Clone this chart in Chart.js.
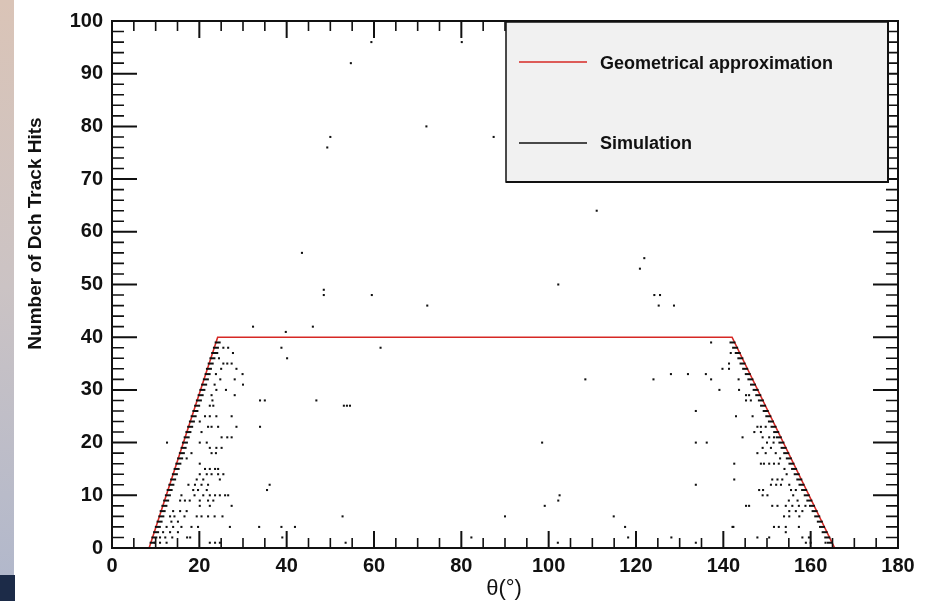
<!DOCTYPE html>
<html><head><meta charset="utf-8">
<script src="https://cdn.jsdelivr.net/npm/chart.js@4"></script>
<style>html,body{margin:0;padding:0;background:#fff;}canvas{display:block;}</style>
</head><body>
<canvas id="c" width="930" height="601"></canvas>
<script>
// ---- data ----
const xTickValues = [0,20,40,60,80,100,120,140,160,180];
const yTickValues = [0,10,20,30,40,50,60,70,80,90,100];
const xTitle = 'θ(°)';
const yTitle = 'Number of Dch Track Hits';
const geoLabel = 'Geometrical approximation';
const simLabel = 'Simulation';

// Geometrical approximation (theta, hits)
const geoTheta = [0, 8.5, 24.2, 142.0, 165.5, 180];
const geoHits  = [0, 0, 40, 40, 0, 0];

// Simulation: dense hits along acceptance edges [theta, hits]
const simEdgeLeft = [[9.3,1],[9.7,2],[10.1,3],[10.5,4],[10.9,5],[11.3,6],[11.6,7],[12.0,8],[12.4,9],[12.8,10],
 [13.2,11],[13.6,12],[14.0,13],[14.4,14],[14.8,15],[15.2,16],[15.6,17],[16.0,18],[16.4,19],[16.7,20],
 [17.1,21],[17.5,22],[17.9,23],[18.3,24],[18.7,25],[19.1,26],[19.5,27],[19.9,28],[20.3,29],[20.7,30],
 [21.1,31],[21.5,32],[21.9,33],[22.2,34],[22.6,35],[23.0,36],[23.4,37],[23.8,38],[24.2,39]];
const simEdgeRight = [[164.4,1],[163.8,2],[163.2,3],[162.6,4],[162.1,5],[161.5,6],[160.9,7],[160.3,8],[159.7,9],[159.1,10],
 [158.5,11],[157.9,12],[157.4,13],[156.8,14],[156.2,15],[155.6,16],[155.0,17],[154.4,18],[153.8,19],[153.3,20],
 [152.7,21],[152.1,22],[151.5,23],[150.9,24],[150.3,25],[149.7,26],[149.1,27],[148.6,28],[148.0,29],[147.4,30],
 [146.8,31],[146.2,32],[145.6,33],[145.0,34],[144.4,35],[143.9,36],[143.3,37],[142.7,38],[142.1,39]];

// Simulation: scattered hits [theta, hits]
const simSparse = [[43.5,56],[121.9,55],[120.9,53],[102.2,50],[48.5,49],[48.5,48],[59.5,48],[124.2,48],[125.5,48],
 [125.2,46],[128.7,46],[72.2,46],[32.3,42],[46.0,42],[39.8,41],[38.8,38],[61.5,38],[40.1,36],[108.4,32],[124.0,32],
 [128.0,33],[131.9,33],[136.0,33],[33.9,28],[35.0,28],[46.8,28],[53.1,27],[53.8,27],[54.5,27],[33.9,23],[133.7,26],
 [133.7,20],[136.2,20],[98.5,20],[35.5,11],[36.1,12],[133.7,12],[102.2,9],[102.5,10],[99.1,8],[52.8,6],[90.0,6],
 [114.9,6],[33.7,4],[38.8,4],[41.9,4],[117.5,4],[39.0,2],[82.3,2],[118.2,2],[128.1,2],[53.5,1],[102.1,1],[59.4,96],
 [54.7,92],[50.0,78],[49.3,76],[72.0,80],[87.4,78],[80.1,96],[111.0,64],[12.6,20],[133.7,1],[142.3,4]];
const simLeftWedge = [[25.5,38],[26.6,38],[27.7,37],[24.1,37],[24.5,36],[25.5,35],[26.4,35],[27.4,35],[28.5,34],[25.0,34],
 [29.9,33],[23.8,33],[28.1,32],[24.8,32],[30.0,31],[23.5,31],[23.9,30],[26.1,30],[22.8,29],[28.1,29],[23.0,28],
 [22.4,27],[23.2,27],[27.4,25],[21.3,25],[22.4,25],[23.9,25],[20.1,24],[22.0,23],[22.8,23],[24.3,23],[28.5,23],
 [20.5,22],[25.1,21],[26.4,21],[27.4,21],[20.1,20],[21.7,20],[22.4,19],[23.9,19],[25.1,19],[18.2,18],[22.8,18],
 [23.8,18],[17.1,17],[20.1,16],[21.3,15],[22.4,15],[23.6,15],[24.3,15],[20.1,14],[21.7,14],[22.8,14],[24.3,14],
 [25.5,14],[19.4,13],[20.9,13],[24.7,13],[17.5,12],[19.0,12],[20.5,12],[22.0,12],[18.6,11],[19.7,11],[21.7,11],
 [15.9,10],[18.9,10],[20.9,10],[22.4,10],[23.6,10],[24.7,10],[25.9,10],[26.6,10],[16.7,9],[17.8,9],[20.1,9],
 [22.0,9],[23.2,9],[15.6,9],[20.1,8],[22.4,8],[27.4,8],[14.0,7],[15.6,7],[17.1,7],[13.3,6],[14.3,6],[16.6,6],
 [19.4,6],[20.5,6],[22.0,6],[23.5,6],[25.3,6],[13.6,5],[15.1,5],[12.5,4],[14.0,4],[15.9,4],[18.2,4],[19.7,4],
 [27.0,4],[11.7,3],[13.3,3],[15.1,3],[11.0,2],[12.2,2],[13.8,2],[17.2,2],[17.9,2],[22.4,1],[23.6,1],[24.7,1],
 [9.8,1],[11.0,1],[12.5,1]];
const simRightWedge = [[137.2,39],[141.7,37],[141.3,35],[139.8,34],[141.3,34],[137.2,32],[143.5,32],[139.1,30],
 [143.6,30],[145.2,29],[145.9,29],[145.2,28],[146.3,28],[142.9,25],[146.7,25],[147.8,23],[148.6,23],[149.7,23],
 [147.1,22],[148.6,22],[144.4,21],[149.0,21],[150.5,21],[151.6,21],[151.5,20],[150.0,20],[149.0,19],[150.9,19],
 [147.8,18],[149.7,18],[152.0,18],[153.0,17],[142.5,16],[148.6,16],[149.3,16],[150.5,16],[151.6,16],[152.7,16],
 [154.0,15],[154.5,14],[142.5,13],[151.2,13],[152.4,13],[153.5,13],[150.9,12],[152.1,12],[153.2,12],[155.1,12],
 [148.2,11],[149.1,11],[155.5,11],[156.6,11],[149.0,10],[150.1,10],[156.0,10],[155.0,9],[157.0,9],[145.2,8],
 [145.9,8],[151.2,8],[152.4,8],[154.3,8],[155.8,8],[157.3,8],[158.8,8],[155.1,7],[156.6,7],[158.1,7],[153.9,6],
 [155.1,6],[157.4,6],[151.6,4],[152.7,4],[154.3,4],[157.3,4],[142.1,4],[147.8,2],[150.5,2],[154.3,3],[158.1,2],
 [159.6,2],[158.9,1],[160.0,1],[163.4,1]];

// ---- build ----
const toXY = arr => arr.map(p => ({x: p[0], y: p[1]}));
const geoData = geoTheta.map((t, i) => ({x: t, y: geoHits[i]}));
const simDots = toXY(simSparse.concat(simLeftWedge, simRightWedge));
const simEdges = toXY(simEdgeLeft.concat(simEdgeRight));

const RED = 'rgb(214,40,36)';
const FONT = '"Liberation Sans", Arial, Helvetica, sans-serif';

const rootStyle = {
  id: 'rootStyle',
  beforeDraw(chart) {
    const ctx = chart.ctx;
    ctx.save();
    ctx.fillStyle = '#ffffff';
    ctx.fillRect(0, 0, chart.width, chart.height);
    const g = ctx.createLinearGradient(0, 0, 0, 575);
    g.addColorStop(0, '#dac4b7');
    g.addColorStop(0.5, '#cbc3c4');
    g.addColorStop(1, '#b2b8cb');
    ctx.fillStyle = g;
    ctx.fillRect(0, 0, 14, 575);
    ctx.fillStyle = '#1c2b48';
    ctx.fillRect(0, 575, 15, 26);
    ctx.restore();
  },
  afterDatasetsDraw(chart) {
    const ctx = chart.ctx;
    const a = chart.chartArea;
    const xs = chart.scales.x, ys = chart.scales.y;
    ctx.save();
    ctx.strokeStyle = '#111';
    // inward ticks
    for (let v = 0; v <= 180; v += 5) {
      const px = xs.getPixelForValue(v);
      const major = v % 20 === 0;
      const len = major ? 17 : 10;
      ctx.lineWidth = major ? 2 : 1.6;
      ctx.beginPath();
      ctx.moveTo(px, a.bottom); ctx.lineTo(px, a.bottom - len);
      ctx.moveTo(px, a.top); ctx.lineTo(px, a.top + len);
      ctx.stroke();
    }
    for (let v = 0; v <= 100; v += 2) {
      const py = ys.getPixelForValue(v);
      const major = v % 10 === 0;
      const len = major ? 25 : 12;
      ctx.lineWidth = major ? 2 : 1.6;
      ctx.beginPath();
      ctx.moveTo(a.left, py); ctx.lineTo(a.left + len, py);
      ctx.moveTo(a.right, py); ctx.lineTo(a.right - len, py);
      ctx.stroke();
    }
    // frame
    ctx.lineWidth = 2;
    ctx.strokeRect(a.left, a.top, a.right - a.left, a.bottom - a.top);

    // legend box
    const lx = 506, ly = 22, lw = 382, lh = 160;
    ctx.fillStyle = '#f1f1f1';
    ctx.fillRect(lx, ly, lw, lh);
    ctx.lineWidth = 1.5;
    ctx.strokeStyle = '#111';
    ctx.strokeRect(lx, ly, lw, lh);
    ctx.lineWidth = 2;
    ctx.beginPath();
    ctx.moveTo(lx, ly + lh); ctx.lineTo(lx + lw, ly + lh); ctx.lineTo(lx + lw, ly);
    ctx.stroke();
    const ds = chart.data.datasets;
    ctx.lineWidth = 1.6;
    ctx.strokeStyle = ds[0].borderColor;
    ctx.beginPath(); ctx.moveTo(519, 62); ctx.lineTo(587, 62); ctx.stroke();
    ctx.strokeStyle = '#111';
    ctx.beginPath(); ctx.moveTo(519, 143); ctx.lineTo(587, 143); ctx.stroke();
    ctx.fillStyle = '#111';
    ctx.font = 'bold 18px ' + FONT;
    ctx.textAlign = 'left';
    ctx.textBaseline = 'alphabetic';
    ctx.fillText(ds[0].label, 600, 68.5);
    ctx.fillText(ds[1].label, 600, 148.5);

    // axis titles
    ctx.font = '22px ' + FONT;
    ctx.textAlign = 'center';
    ctx.fillText(xTitle, 504, 595);
    ctx.translate(41, 233.5);
    ctx.rotate(-Math.PI / 2);
    ctx.font = 'bold 19px ' + FONT;
    ctx.fillText(yTitle, 0, 0);
    ctx.restore();
  }
};

new Chart(document.getElementById('c'), {
  type: 'scatter',
  data: {
    datasets: [
      {
        label: geoLabel, type: 'line', data: geoData,
        borderColor: RED, borderWidth: 1.6, pointRadius: 0, fill: false, tension: 0, order: 3
      },
      {
        label: simLabel, data: simDots,
        pointStyle: 'rect', pointRadius: 1.45, backgroundColor: '#111', borderWidth: 0, order: 2
      },
      {
        label: simLabel + ' (edge)', data: simEdges,
        pointStyle: 'line', pointRadius: 3, borderColor: '#111', borderWidth: 2, order: 1
      }
    ]
  },
  options: {
    responsive: false,
    devicePixelRatio: 1,
    animation: false,
    events: [],
    layout: { padding: { top: 16, right: 32, left: 0, bottom: 0 } },
    plugins: { legend: { display: false }, tooltip: { enabled: false } },
    scales: {
      x: {
        type: 'linear', min: 0, max: 180,
        afterFit(s) { s.height = 53; },
        afterBuildTicks(s) { s.ticks = xTickValues.map(v => ({value: v})); },
        grid: { display: false, drawTicks: false },
        border: { display: false },
        ticks: { color: '#111', padding: 6, maxRotation: 0, autoSkip: false,
                 font: { family: FONT, size: 20, weight: 'bold' } }
      },
      y: {
        type: 'linear', min: 0, max: 100,
        afterFit(s) { s.width = 112; },
        afterBuildTicks(s) { s.ticks = yTickValues.map(v => ({value: v})); },
        grid: { display: false, drawTicks: false },
        border: { display: false },
        ticks: { color: '#111', padding: 9, autoSkip: false,
                 font: { family: FONT, size: 20, weight: 'bold' } }
      }
    }
  },
  plugins: [rootStyle]
});
</script>
</body></html>
